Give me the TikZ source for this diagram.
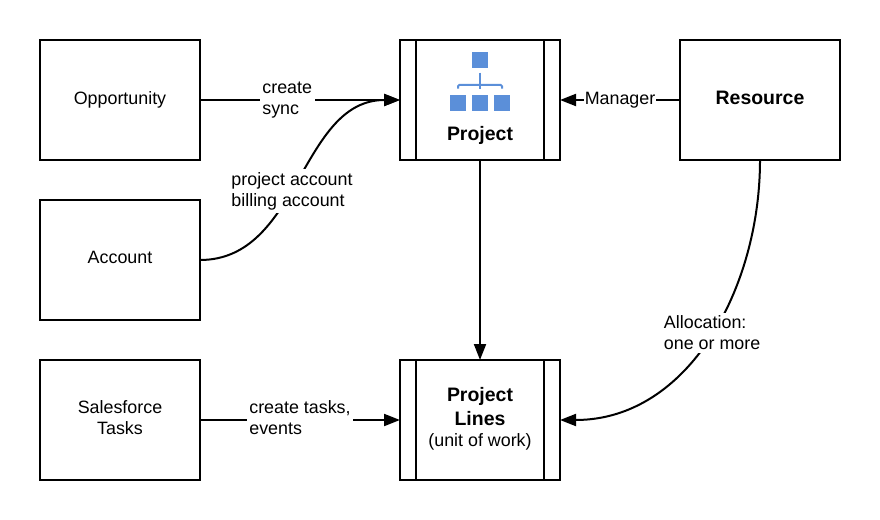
\documentclass[tikz,border=0pt]{standalone}
\usepackage{fontspec}
\setmainfont{Liberation Sans}
\usetikzlibrary{positioning}
\usetikzlibrary{arrows.meta}
\definecolor{iconblue}{HTML}{5B8FD9}
\begin{document}
\begin{tikzpicture}[x=1pc,y=1pc,line width=1.5pt,>={Triangle[length=12pt,width=9pt]},align=center,
    font=\fontsize{13.4}{16}\selectfont,
    plainbox/.style={rectangle,draw,outer sep=0pt,minimum width=10pc,minimum height=7.5pc,text depth=3.5pt},
    splitbox/.style={plainbox,path picture={
      \draw ([xshift=1pc]path picture bounding box.north west) -- ([xshift=1pc]path picture bounding box.south west);
      \draw ([xshift=-1pc]path picture bounding box.north east) -- ([xshift=-1pc]path picture bounding box.south east);}},
    boldtext/.style={font=\fontsize{14.6}{18}\selectfont\bfseries},
    linklabel/.style={fill=white,inner sep=2pt,align=left},
    iconbox/.style={rectangle,fill=iconblue,minimum size=1pc,inner sep=0pt,outer sep=0pt},
    iconline/.style={draw=iconblue,line width=1.5pt,rounded corners=1pt}]
  \useasboundingbox (0,0) rectangle (55,-32.5);
  \node (opportunity) at (7.5,-6.25) [plainbox]                   {Opportunity};
  \node (account)     [plainbox,below=2.5 of opportunity]         {Account};
  \node (tasks)       [plainbox,below=2.5 of account]             {Salesforce\\Tasks};
  \node (project)     [splitbox,right=12.5 of opportunity]        {};
  \node (resource)    [plainbox,boldtext,right=7.5 of project]    {Resource};
  \node (lines)       [splitbox,right=12.5 of tasks]              {};
  \node (projecttext) at (30,-8.44) [boldtext]                    {Project};
  \node (linestext)   at (30,-26.18) [boldtext]                   {Project\\Lines\\[-2.5pt]{\fontsize{13.4}{16}\selectfont\mdseries (unit of work)}};
  % icon
  \node (icontop)   at (30,-3.72) [iconbox] {};
  \node (iconmid)   at (30,-6.41) [iconbox] {};
  \node (iconleft)  [iconbox,left=.375 of iconmid]  {};
  \node (iconright) [iconbox,right=.375 of iconmid] {};
  \coordinate (iconhub) at (30,-5.31);
  \path[iconline,shorten <=3.75pt,shorten >=4.5pt] (icontop.south) -- (iconmid.north);
  \path[iconline,shorten <=4.5pt,shorten >=4.5pt] (iconleft.north) |- (iconhub) -| (iconright.north);
  % links
  \path (opportunity) edge[->] node[linklabel,xshift=-.8pc] {create\\sync} (project);
  \path (account.east) edge[->,out=0,in=180] node[linklabel,pos=.53,xshift=-.78pc,yshift=-13.75pt] {project account\\billing account} (project.west);
  \path (resource) edge[->] node[linklabel,inner sep=.5pt] {Manager} (project);
  \path (project) edge[->] (lines);
  \path (resource.south) edge[->,out=-90,in=0] node[linklabel,pos=.5,xshift=3pt,yshift=4pt] {Allocation:\\one or more} (lines.east);
  \path (tasks) edge[->] node[linklabel,yshift=2pt] {create tasks,\\events} (lines);
\end{tikzpicture}
\end{document}
